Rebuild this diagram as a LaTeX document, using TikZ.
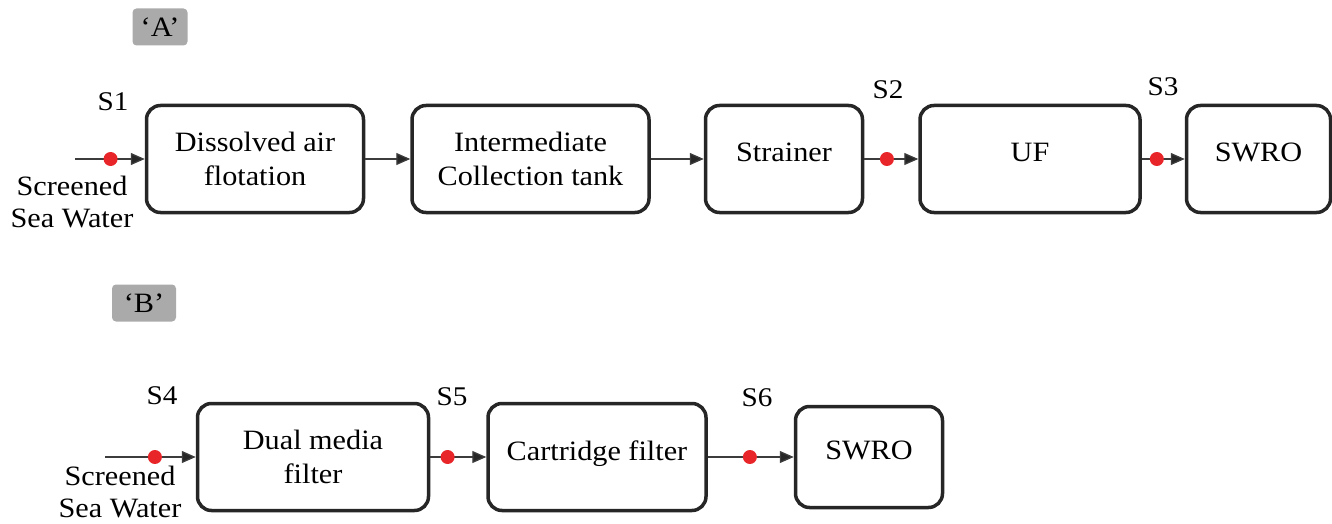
\documentclass[tikz,border=0pt]{standalone}
\usepackage{fontspec}
\setmainfont{Liberation Serif}[FakeStretch=1.08]
\usetikzlibrary{positioning, arrows.meta}

\definecolor{tagGray}{RGB}{170,170,170}
\definecolor{sampleRed}{RGB}{232,38,42}
\definecolor{lineGray}{RGB}{60,60,60}

\begin{document}
\begin{tikzpicture}[x=1pt, y=-1pt,
        unit/.style={draw=black!85, line width=3.5pt, rounded corners=14pt, align=center,
            minimum height=107pt, inner sep=0pt, font=\fontsize{28}{34}\selectfont},
        single/.style={text depth=13pt},
        flow/.style={draw=lineGray, line width=1.3pt, -{Triangle[length=14pt, width=12pt, fill=black!85]}},
        sample/.style={circle, fill=sampleRed, inner sep=0pt, minimum size=14pt},
        tag/.style={fill=tagGray, rounded corners=4pt, inner sep=0pt, minimum height=37pt,
            font=\fontsize{28}{32}\selectfont},
        stream/.style={font=\fontsize{27}{30}\selectfont},
        feed/.style={align=center, font=\fontsize{28}{32}\selectfont}]
        \useasboundingbox (0,0) rectangle (1332,524);

        % Scheme A
        \node[tag, minimum width=55pt] (tagA) at (160,27) {`A'};
        \node[unit, minimum width=217pt] (dafA) at (255,159) {Dissolved air\\flotation};
        \node[unit, minimum width=237pt, right=45pt of dafA] (tankA) {Intermediate\\Collection tank};
        \node[unit, single, minimum width=157pt, right=53pt of tankA] (strainerA) {Strainer};
        \node[unit, single, minimum width=220pt, right=54pt of strainerA] (ufA) {UF};
        \node[unit, single, minimum width=144pt, right=43pt of ufA] (swroA) {SWRO};

        \coordinate (inA) at (75,159);
        \node[feed] (seaA) at (72,202) {Screened\\Sea Water};

        \draw[flow] (inA) -- node[sample, pos=0.51] (dotS1) {} (dafA);
        \draw[flow] (dafA) -- (tankA);
        \draw[flow] (tankA) -- (strainerA);
        \draw[flow] (strainerA) -- node[sample, pos=0.42] (dotS2) {} (ufA);
        \draw[flow] (ufA) -- node[sample, pos=0.35] (dotS3) {} (swroA);

        \node[stream] (s1) at (113,102) {S1};
        \node[stream] (s2) at (888,90) {S2};
        \node[stream] (s3) at (1163,87) {S3};

        % Scheme B
        \node[tag, minimum width=64pt] (tagB) at (144,303) {`B'};
        \node[unit, minimum width=231pt] (dualB) at (313,457) {Dual media\\filter};
        \node[unit, single, minimum width=218pt, right=56pt of dualB] (cartB) {Cartridge filter};
        \node[unit, single, minimum width=147pt, minimum height=101pt, right=86pt of cartB] (swroB) {SWRO};

        \coordinate (inB) at (105,457);
        \node[feed] (seaB) at (120,492) {Screened\\Sea Water};

        \draw[flow] (inB) -- node[sample, pos=0.55] (dotS4) {} (dualB);
        \draw[flow] (dualB) -- node[sample, pos=0.31] (dotS5) {} (cartB);
        \draw[flow] (cartB) -- node[sample, pos=0.49] (dotS6) {} (swroB);

        \node[stream] (s4) at (162,396) {S4};
        \node[stream] (s5) at (452,397) {S5};
        \node[stream] (s6) at (757,398) {S6};
    \end{tikzpicture}
\end{document}
